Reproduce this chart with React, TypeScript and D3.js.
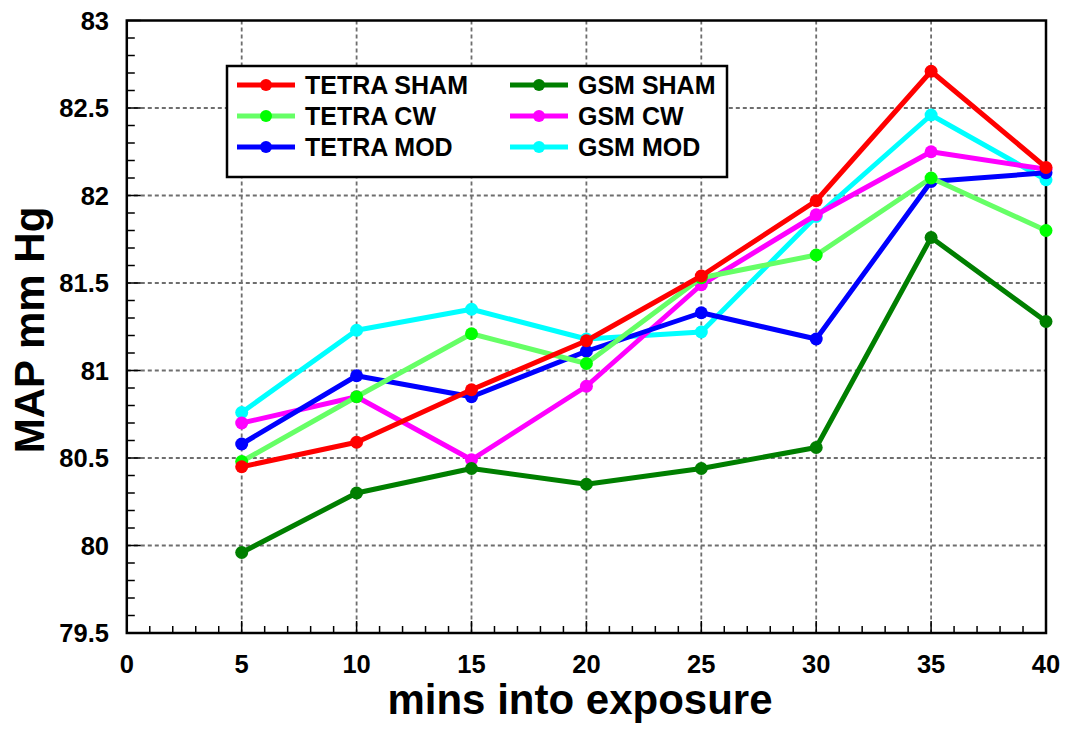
import React from "react";
import * as d3 from "d3";

const minutes = [5, 10, 15, 20, 25, 30, 35, 40];
const tetraSham = [80.45, 80.59, 80.89, 81.17, 81.54, 81.97, 82.71, 82.16];
const tetraCw = [80.48, 80.85, 81.21, 81.04, 81.53, 81.66, 82.1, 81.8];
const tetraMod = [80.58, 80.97, 80.85, 81.11, 81.33, 81.18, 82.08, 82.13];
const gsmSham = [79.96, 80.3, 80.44, 80.35, 80.44, 80.56, 81.76, 81.28];
const gsmCw = [80.7, 80.85, 80.49, 80.91, 81.49, 81.89, 82.25, 82.15];
const gsmMod = [80.76, 81.23, 81.35, 81.18, 81.22, 81.88, 82.46, 82.09];

const xTicks = [0, 5, 10, 15, 20, 25, 30, 35, 40];
const yTicks = [79.5, 80, 80.5, 81, 81.5, 82, 82.5, 83];

const seriesNames = ["TETRA SHAM", "TETRA CW", "TETRA MOD", "GSM SHAM", "GSM CW", "GSM MOD"];
const seriesValues = [tetraSham, tetraCw, tetraMod, gsmSham, gsmCw, gsmMod];
const lineColors = ["#ff0000", "#66ff66", "#0000ff", "#007f00", "#ff00ff", "#00ffff"];
const markerColors = ["#ff0000", "#00ff00", "#0000ff", "#007f00", "#ff00ff", "#00ffff"];

const W = 1066;
const H = 731;
const left = 126.8;
const right = 1046;
const top = 20.5;
const bottom = 633;
const FONT = "'Liberation Sans', Arial, Helvetica, sans-serif";

export default function App() {
  const x = d3.scaleLinear().domain([0, 40]).range([left, right]);
  const y = d3.scaleLinear().domain([79.5, 83]).range([bottom, top]);
  const line = d3
    .line<number>()
    .x((_, i) => x(minutes[i]))
    .y((d) => y(d));

  const xMinor = d3.range(0, 41, 1).filter((v) => v % 5 !== 0);
  const yMinor = d3.range(0, 36).map((i) => 79.5 + i * 0.1).filter((_, i) => i % 5 !== 0);

  const order = [5, 4, 3, 2, 1, 0];

  const legendX = 227;
  const legendY = 66;
  const legendW = 500;
  const legendH = 111;
  const rowYs = [85, 116, 147];
  const colX = [237, 510];

  return (
    <div style={{ position: "absolute", left: 0, top: 0 }}>
      <svg width={W} height={H} style={{ display: "block", background: "#fff" }}>
        {/* grid */}
        {xTicks
          .filter((v) => v > 0 && v < 40)
          .map((v) => (
            <line key={"gx" + v} x1={x(v)} x2={x(v)} y1={top} y2={bottom} stroke="#6e6e6e" strokeWidth={1.8} strokeDasharray="4 3" />
          ))}
        {yTicks
          .filter((v) => v > 79.5 && v < 83)
          .map((v) => (
            <line key={"gy" + v} x1={left} x2={right} y1={y(v)} y2={y(v)} stroke="#6e6e6e" strokeWidth={1.8} strokeDasharray="4 3" />
          ))}
        {/* ticks */}
        {xMinor.map((v) => (
          <line key={"xm" + v} x1={x(v)} x2={x(v)} y1={bottom} y2={bottom - 7} stroke="#000" strokeWidth={1.5} />
        ))}
        {xTicks.map((v) => (
          <line key={"xM" + v} x1={x(v)} x2={x(v)} y1={bottom} y2={bottom - 12} stroke="#000" strokeWidth={1.5} />
        ))}
        {yMinor.map((v, i) => (
          <line key={"ym" + i} x1={left} x2={left + 8} y1={y(v)} y2={y(v)} stroke="#000" strokeWidth={1.5} />
        ))}
        {yTicks.map((v) => (
          <line key={"yM" + v} x1={left} x2={left + 14} y1={y(v)} y2={y(v)} stroke="#000" strokeWidth={1.5} />
        ))}
        {/* frame */}
        <rect x={left} y={top} width={right - left} height={bottom - top} fill="none" stroke="#000" strokeWidth={2.5} />
        {/* tick labels */}
        {xTicks.map((v) => (
          <text key={"xl" + v} x={x(v)} y={673} textAnchor="middle" fontFamily={FONT} fontWeight="bold" fontSize={25.5} fill="#000">
            {v}
          </text>
        ))}
        {yTicks.map((v) => (
          <text key={"yl" + v} x={109} y={y(v)} dy="0.36em" textAnchor="end" fontFamily={FONT} fontWeight="bold" fontSize={25.5} fill="#000">
            {v}
          </text>
        ))}
        {/* axis titles */}
        <text x={580} y={714} textAnchor="middle" fontFamily={FONT} fontWeight="bold" fontSize={42} fill="#000">
          mins into exposure
        </text>
        <text
          transform={`translate(44, 330) rotate(-90)`}
          textAnchor="middle"
          fontFamily={FONT}
          fontWeight="bold"
          fontSize={42}
          fill="#000"
        >
          MAP mm Hg
        </text>
        {/* legend */}
        <rect x={legendX} y={legendY} width={legendW} height={legendH} fill="#fff" stroke="#000" strokeWidth={2.5} />
        {seriesNames.map((name, i) => {
          const col = Math.floor(i / 3);
          const row = i % 3;
          const lx = colX[col];
          const ly = rowYs[row];
          return (
            <g key={"lg" + i}>
              <line x1={lx} x2={lx + 58} y1={ly} y2={ly} stroke={lineColors[i]} strokeWidth={5} />
              <circle cx={lx + 29} cy={ly} r={6} fill={markerColors[i]} />
              <text x={lx + 68} y={ly} dy="0.36em" fontFamily={FONT} fontWeight="bold" fontSize={25} fill="#000">
                {name}
              </text>
            </g>
          );
        })}
        {/* series */}
        {order.map((i) => (
          <g key={"s" + i}>
            <path d={line(seriesValues[i]) || ""} fill="none" stroke={lineColors[i]} strokeWidth={5} strokeLinejoin="round" />
            {seriesValues[i].map((v, j) => (
              <circle key={j} cx={x(minutes[j])} cy={y(v)} r={6.5} fill={markerColors[i]} />
            ))}
          </g>
        ))}
      </svg>
    </div>
  );
}
